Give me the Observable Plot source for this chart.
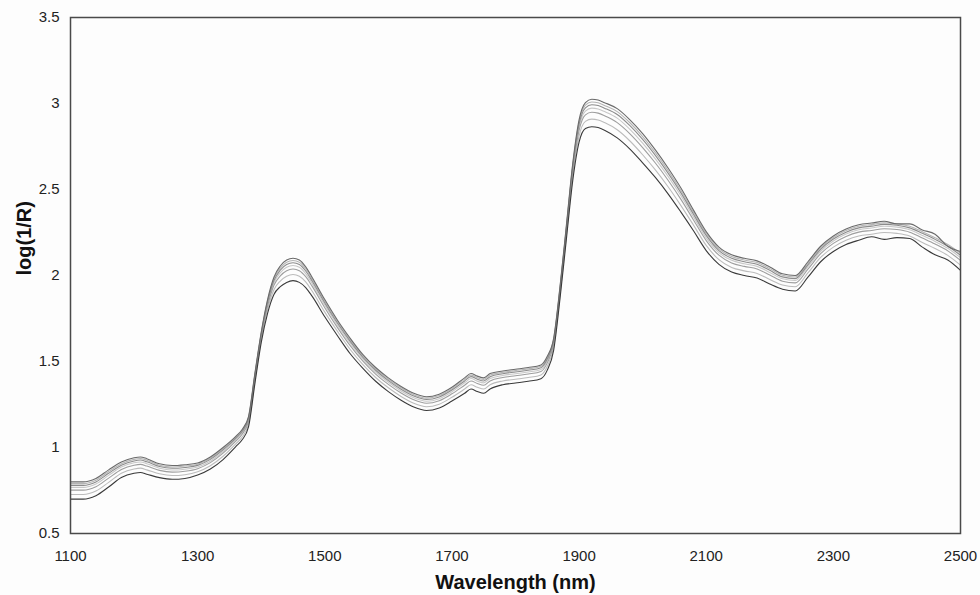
<!DOCTYPE html>
<html>
<head>
<meta charset="utf-8">
<script src="https://cdn.jsdelivr.net/npm/d3@7"></script>
<script src="https://cdn.jsdelivr.net/npm/@observablehq/plot@0.6"></script>
<style>
  html, body { margin: 0; padding: 0; background: #fdfdfd; }
  #chart svg { display: block; }
</style>
</head>
<body>
<div id="chart"></div>
<script>
const wavelengths = [1100,1120,1140,1160,1180,1200,1210,1220,1240,1260,1280,1300,1320,1340,1360,1370,1380,1390,1400,1410,1420,1430,1440,1450,1460,1470,1480,1500,1520,1540,1560,1580,1600,1620,1640,1660,1680,1700,1720,1730,1740,1750,1760,1780,1800,1820,1840,1850,1860,1870,1880,1890,1900,1910,1920,1930,1940,1960,1980,2000,2020,2040,2060,2080,2100,2120,2140,2160,2180,2200,2220,2240,2260,2280,2300,2320,2340,2360,2380,2400,2420,2440,2460,2480,2500];

const sampleA = [0.80,0.80,0.82,0.87,0.915,0.94,0.945,0.935,0.905,0.895,0.90,0.91,0.945,1.00,1.065,1.105,1.18,1.43,1.67,1.86,1.99,2.055,2.09,2.10,2.09,2.05,1.99,1.86,1.74,1.635,1.54,1.465,1.405,1.355,1.315,1.295,1.31,1.35,1.405,1.43,1.415,1.405,1.43,1.445,1.455,1.465,1.48,1.53,1.635,1.935,2.29,2.65,2.905,3.005,3.025,3.02,3.005,2.97,2.905,2.825,2.73,2.625,2.51,2.38,2.255,2.165,2.12,2.10,2.085,2.05,2.01,2.00,2.08,2.17,2.23,2.27,2.295,2.305,2.315,2.30,2.30,2.265,2.24,2.17,2.14];
const sampleB = [0.79,0.79,0.81,0.86,0.906,0.931,0.936,0.926,0.897,0.887,0.892,0.903,0.938,0.993,1.059,1.099,1.174,1.424,1.664,1.852,1.98,2.043,2.077,2.087,2.077,2.038,1.979,1.85,1.731,1.626,1.532,1.457,1.397,1.347,1.307,1.287,1.302,1.342,1.396,1.421,1.406,1.396,1.421,1.437,1.447,1.457,1.472,1.522,1.628,1.928,2.282,2.64,2.892,2.99,3.009,3.004,2.989,2.953,2.888,2.808,2.714,2.61,2.496,2.368,2.244,2.155,2.11,2.09,2.075,2.04,2.001,1.991,2.071,2.161,2.221,2.261,2.286,2.296,2.306,2.301,2.286,2.255,2.22,2.18,2.129];
const sampleC = [0.78,0.78,0.80,0.85,0.897,0.922,0.927,0.917,0.889,0.879,0.884,0.896,0.931,0.986,1.053,1.093,1.168,1.418,1.658,1.844,1.97,2.031,2.064,2.074,2.064,2.026,1.968,1.84,1.722,1.617,1.524,1.449,1.389,1.339,1.299,1.279,1.294,1.334,1.387,1.412,1.397,1.387,1.412,1.429,1.439,1.449,1.464,1.514,1.621,1.921,2.274,2.63,2.879,2.975,2.993,2.988,2.973,2.936,2.871,2.791,2.698,2.595,2.482,2.356,2.233,2.145,2.10,2.08,2.065,2.03,1.992,1.982,2.062,2.152,2.212,2.252,2.277,2.287,2.297,2.292,2.277,2.245,2.21,2.17,2.118];
const sampleD = [0.768,0.768,0.788,0.838,0.886,0.911,0.916,0.906,0.879,0.869,0.874,0.887,0.922,0.977,1.046,1.086,1.161,1.411,1.651,1.834,1.958,2.016,2.048,2.058,2.048,2.011,1.954,1.828,1.711,1.606,1.514,1.439,1.379,1.329,1.289,1.269,1.284,1.324,1.376,1.401,1.386,1.376,1.401,1.419,1.429,1.439,1.454,1.504,1.612,1.912,2.264,2.618,2.863,2.956,2.973,2.968,2.953,2.915,2.85,2.77,2.678,2.576,2.465,2.341,2.219,2.133,2.088,2.068,2.053,2.018,1.981,1.971,2.051,2.141,2.201,2.241,2.266,2.276,2.286,2.281,2.266,2.233,2.198,2.158,2.104];
const sampleE = [0.752,0.752,0.772,0.822,0.872,0.897,0.902,0.892,0.867,0.857,0.862,0.877,0.912,0.967,1.037,1.077,1.152,1.402,1.642,1.822,1.943,1.998,2.028,2.038,2.028,1.993,1.938,1.813,1.697,1.592,1.502,1.427,1.367,1.317,1.277,1.257,1.272,1.312,1.362,1.387,1.372,1.362,1.387,1.407,1.417,1.427,1.442,1.492,1.602,1.902,2.252,2.603,2.843,2.934,2.949,2.944,2.929,2.889,2.824,2.744,2.654,2.554,2.444,2.323,2.203,2.118,2.073,2.053,2.038,2.003,1.967,1.957,2.037,2.127,2.187,2.227,2.252,2.262,2.272,2.267,2.252,2.218,2.183,2.143,2.088];
const sampleF = [0.727,0.727,0.747,0.797,0.85,0.875,0.88,0.87,0.847,0.837,0.842,0.859,0.894,0.949,1.021,1.061,1.136,1.386,1.626,1.802,1.917,1.968,1.996,2.006,1.996,1.963,1.91,1.787,1.675,1.57,1.482,1.407,1.347,1.297,1.257,1.237,1.252,1.292,1.34,1.365,1.35,1.34,1.365,1.387,1.397,1.407,1.422,1.472,1.584,1.884,2.232,2.577,2.811,2.896,2.909,2.904,2.889,2.847,2.782,2.702,2.614,2.516,2.408,2.293,2.175,2.092,2.047,2.027,2.012,1.977,1.945,1.935,2.015,2.105,2.165,2.205,2.23,2.24,2.25,2.245,2.23,2.192,2.157,2.117,2.06];
const sampleG = [0.70,0.70,0.72,0.77,0.825,0.85,0.855,0.845,0.825,0.815,0.82,0.84,0.875,0.93,1.005,1.045,1.12,1.37,1.61,1.78,1.89,1.935,1.96,1.97,1.96,1.93,1.88,1.76,1.65,1.545,1.46,1.385,1.325,1.275,1.235,1.215,1.23,1.27,1.315,1.34,1.325,1.315,1.34,1.365,1.375,1.385,1.40,1.45,1.565,1.865,2.21,2.55,2.775,2.855,2.865,2.86,2.845,2.80,2.735,2.655,2.57,2.475,2.37,2.26,2.145,2.065,2.02,2.00,1.985,1.95,1.92,1.91,1.99,2.08,2.14,2.18,2.205,2.225,2.21,2.22,2.215,2.165,2.12,2.09,2.03];

const samples = [sampleA, sampleB, sampleC, sampleD, sampleE, sampleF, sampleG];
const sampleNames = ["A","B","C","D","E","F","G"];
const sampleGrays = ["#6a6a6a","#b4b4b4","#8c8c8c","#c8c8c8","#9e9e9e","#bcbcbc","#3a3a3a"];

const xTicks = [1100,1300,1500,1700,1900,2100,2300,2500];
const yTicks = [0.5,1,1.5,2,2.5,3,3.5];
const xTitle = ["Wavelength (nm)"];
const yTitle = ["log(1/R)"];

const rows = [];
samples.forEach((arr, i) => {
  arr.forEach((v, j) => rows.push({w: wavelengths[j], v, s: sampleNames[i]}));
});

const drawOrder = [3, 5, 1, 4, 2, 0, 6];
const lineMarks = drawOrder.map(i =>
  Plot.line(rows.filter(r => r.s === sampleNames[i]), {
    x: "w", y: "v", stroke: sampleGrays[i], strokeWidth: 1.1, curve: "monotone-x"
  })
);

const chart = Plot.plot({
  width: 980,
  height: 595,
  marginLeft: 70,
  marginRight: 20,
  marginTop: 17,
  marginBottom: 62,
  style: {fontFamily: "'Liberation Sans', Arial, sans-serif", fontSize: "15px", color: "#222", background: "transparent"},
  x: {domain: [1100, 2500]},
  y: {domain: [0.5, 3.5]},
  marks: [
    ...lineMarks,
    Plot.frame({stroke: "#4a4a4a", strokeWidth: 1.5}),
    Plot.axisX({ticks: xTicks, tickSize: 0, tickPadding: 17, tickFormat: d => String(d), label: null, fontSize: 15}),
    Plot.axisY({ticks: yTicks, tickSize: 0, tickPadding: 11, tickFormat: d => String(d), label: null, fontSize: 15}),
    Plot.text(xTitle, {text: d => d, frameAnchor: "bottom", dy: 55, fontWeight: "bold", fontSize: 20, fill: "#111"}),
    Plot.text(yTitle, {text: d => d, frameAnchor: "left", dx: -46, rotate: -90, fontWeight: "bold", fontSize: 20, fill: "#111"})
  ]
});
document.getElementById("chart").appendChild(chart);
</script>
</body>
</html>
